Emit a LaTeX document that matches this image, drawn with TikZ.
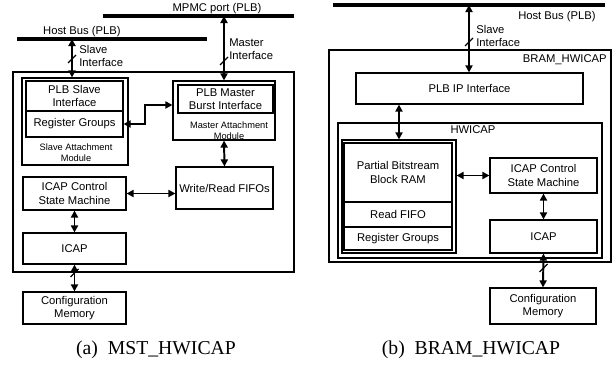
\documentclass[tikz,border=0pt]{standalone}
\usepackage{fontspec}
\setmainfont{Liberation Sans}
\newfontfamily\capfont{Liberation Serif}
\usetikzlibrary{
    positioning,
    arrows.meta,
}

\begin{document}
\begin{tikzpicture}[
    x=0.25mm, y=-0.25mm,
    box/.style={rectangle, draw, line width=0.8pt, inner sep=1pt, align=center,
                font=\fontsize{8}{9.6}\selectfont},
    note/.style={align=center, inner sep=0pt, font=\fontsize{6.6}{8}\selectfont},
    lbl/.style={align=left, inner sep=0pt, font=\fontsize{8}{9.6}\selectfont},
    bus/.style={line width=3pt},
    link/.style={{Triangle[length=5pt,width=5pt]}-{Triangle[length=5pt,width=5pt]}, line width=1.4pt},
    cut/.style={line width=0.9pt},
    caption/.style={inner sep=0pt, font=\capfont\fontsize{14}{16}\selectfont},
]
    \useasboundingbox (0,0) rectangle (615,367);

    % (a) MST_HWICAP
    \coordinate (mpA) at (103,16);
    \coordinate (mpB) at (294,16);
    \draw[bus] (mpA) -- (mpB);
    \node[lbl] (mplbl) at (217,9) {MPMC port (PLB)};
    \coordinate (hbA) at (17,39);
    \coordinate (hbB) at (207,39);
    \draw[bus] (hbA) -- (hbB);
    \node[lbl] (hblbl) at (82,32) {Host Bus (PLB)};

    \node[box, minimum width=70.25mm, minimum height=50mm] (mst) at (153.5,172) {};
    \node[box, minimum width=26.5mm, minimum height=21.75mm] (sam) at (75,121.5) {};
    \node[box, minimum width=24.25mm, minimum height=7.5mm] (plbs) at (74.5,96) {PLB Slave\\Interface};
    \node[box, minimum width=24.25mm, minimum height=6.5mm] (regs) at (74.5,124) {Register Groups};
    \node[note] (samlbl) at (76,153) {Slave Attachment\\Module};

    \node[box, minimum width=25.5mm, minimum height=14.75mm] (mam) at (224,110.5) {};
    \node[box, minimum width=23.75mm, minimum height=7mm] (plbm) at (225.5,99) {PLB Master\\Burst Interface};
    \node[note] (mamlbl) at (229,131) {Master Attachment\\Module};

    \node[box, minimum width=24.25mm, minimum height=10.5mm] (fifo) at (224.5,188) {Write/Read FIFOs};
    \node[box, minimum width=25.75mm, minimum height=8.25mm] (csm) at (74.5,193.5) {ICAP Control\\State Machine};
    \node[box, minimum width=25.75mm, minimum height=7.75mm] (icap) at (74.5,248.5) {ICAP};
    \node[box, minimum width=25.75mm, minimum height=8mm] (cfg) at (74.5,308) {Configuration\\Memory};

    \coordinate (sl) at (72,39);
    \draw[link] (sl) -- (sl |- sam.north);
    \draw[cut] (68,63) -- (76,55);
    \node[lbl, anchor=west] (sllbl) at (79,56) {Slave\\Interface};
    \draw[link] (mam.north |- mpA) -- (mam.north);
    \draw[cut] (220,65) -- (228,57);
    \node[lbl, anchor=west] (malbl) at (229,49) {Master\\Interface};

    \coordinate (rg) at (145,105);
    \draw[link] (regs.east) -| (rg) -- (rg -| mam.west);
    \draw[link] (mam.south) -- (fifo.north);
    \draw[link] (csm.east) -- (fifo.west |- csm.east);
    \draw[link] (csm.south) -- (icap.north);
    \draw[link] (icap.south) -- (cfg.north);
    \draw[cut] (70.5,277) -- (78.5,269);

    \node[caption] (capa) at (156,350) {(a)~~MST\_HWICAP};

    % (b) BRAM_HWICAP
    \coordinate (hb2A) at (333,5);
    \coordinate (hb2B) at (605,5);
    \draw[bus] (hb2A) -- (hb2B);
    \node[lbl] (hb2lbl) at (557,17) {Host Bus (PLB)};

    \node[box, minimum width=70.5mm, minimum height=53mm] (bram) at (470,156) {};
    \node[lbl, anchor=east] (bramlbl) at (607,60) {BRAM\_HWICAP};
    \node[box, minimum width=56.75mm, minimum height=7.75mm] (plbip) at (469.5,88.5) {PLB IP Interface};

    \node[box, minimum width=66mm, minimum height=33.75mm] (hwicap) at (470,190.5) {};
    \node[lbl] (hwlbl) at (473,130) {HWICAP};

    \node[box, minimum width=28.5mm, minimum height=28.25mm] (pbram) at (399,196.5) {};
    \node[box, minimum width=27mm, minimum height=14.75mm] (brb) at (398,172.5) {Partial Bitstream\\Block RAM};
    \node[box, minimum width=27mm, minimum height=6.25mm] (rfifo) at (398,214.5) {Read FIFO};
    \node[box, minimum width=27mm, minimum height=5.75mm] (rgrp) at (398,238.5) {Register Groups};

    \node[box, minimum width=26.75mm, minimum height=8.75mm] (csm2) at (543.5,175.5) {ICAP Control\\State Machine};
    \node[box, minimum width=26.75mm, minimum height=8.25mm] (icap2) at (543.5,236.5) {ICAP};
    \node[box, minimum width=26.5mm, minimum height=9mm] (cfg2) at (543,306) {Configuration\\Memory};

    \coordinate (sl2) at (469,5);
    \draw[link] (sl2) -- (sl2 |- plbip.north);
    \draw[cut] (465,46) -- (473,38);
    \node[lbl, anchor=west] (sl2lbl) at (476,36) {Slave\\Interface};

    \draw[link] (pbram.north |- plbip.south) -- (pbram.north);
    \draw[link] (csm2.west -| pbram.east) -- (csm2.west);
    \draw[link] (csm2.south) -- (icap2.north);
    \draw[link] (icap2.south) -- (cfg2.north);
    \draw[cut] (539.5,272) -- (547.5,264);

    \node[caption] (capb) at (471,350) {(b)~~BRAM\_HWICAP};
\end{tikzpicture}
\end{document}
